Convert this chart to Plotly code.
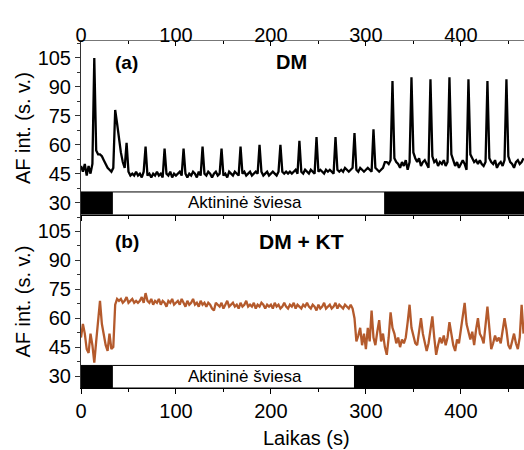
import plotly.graph_objects as go

# sampling time (s), one reading every 2 s
t = list(range(0, 467, 2))

# (a) DM
dm = [
    49, 46, 50, 44, 49, 45, 50, 105, 57, 55,
    55, 54, 52, 50, 48, 47, 46, 48, 78, 71,
    63, 56, 51, 48, 61, 46, 44, 45, 44, 46,
    44, 45, 43, 46, 59, 44, 45, 43, 45, 44,
    46, 44, 45, 43, 58, 45, 44, 46, 43, 45,
    44, 45, 46, 44, 58, 45, 43, 45, 44, 46,
    45, 43, 46, 44, 59, 45, 44, 46, 45, 43,
    45, 46, 44, 45, 58, 44, 45, 43, 46, 45,
    44, 46, 45, 44, 59, 45, 46, 44, 45, 46,
    44, 45, 46, 45, 60, 46, 44, 45, 46, 44,
    45, 46, 45, 44, 46, 60, 46, 45, 46, 45,
    46, 45, 46, 47, 45, 62, 46, 45, 47, 46,
    45, 47, 46, 45, 64, 46, 47, 46, 45, 47,
    46, 47, 46, 45, 64, 47, 46, 47, 46, 48,
    47, 46, 47, 48, 66, 47, 46, 48, 47, 46,
    47, 48, 47, 46, 68, 48, 47, 46, 47, 48,
    51, 51, 50, 52, 93, 53, 51, 50, 48, 51,
    49, 52, 47, 51, 95, 56, 53, 51, 53, 49,
    51, 52, 50, 48, 94, 54, 51, 52, 49, 51,
    50, 52, 49, 51, 95, 55, 52, 49, 51, 48,
    50, 52, 50, 47, 94, 55, 53, 51, 52, 50,
    52, 50, 49, 51, 93, 53, 51, 50, 52, 48,
    50, 51, 49, 52, 94, 54, 51, 50, 48, 51,
    52, 50, 51, 53,
]

# (b) DM + KT
dm_kt = [
    50, 57, 52, 44, 42, 52, 46, 37, 48, 58,
    69, 57, 51, 46, 43, 52, 44, 45, 67, 70,
    69, 70, 68, 69, 71, 68, 69, 70, 68, 69,
    68, 69, 71, 68, 73, 69, 68, 70, 67, 69,
    68, 70, 67, 69, 68, 66, 69, 68, 70, 67,
    68, 69, 67, 70, 68, 66, 69, 67, 68, 70,
    67, 68, 66, 69, 67, 68, 66, 68, 67, 65,
    64, 68, 67, 66, 68, 65, 67, 69, 66, 67,
    68, 66, 67, 65, 68, 66, 67, 69, 66, 67,
    66, 68, 65, 67, 66, 68, 67, 65, 67, 66,
    67, 65, 68, 66, 67, 65, 66, 68, 66, 65,
    67, 66, 68, 65, 67, 66, 65, 67, 66, 68,
    66, 65, 67, 66, 64, 67, 65, 66, 68, 65,
    66, 67, 65, 66, 68, 65, 67, 66, 65, 67,
    66, 65, 67, 65, 60, 48, 51, 55, 46, 52,
    44, 55, 48, 64, 50, 46, 53, 59, 48, 52,
    45, 41, 50, 63, 55, 52, 47, 50, 45, 49,
    47, 50, 58, 67, 55, 50, 47, 46, 52, 60,
    52, 48, 43, 47, 53, 61, 50, 41, 46, 50,
    47, 51, 46, 50, 58, 52, 46, 43, 49, 47,
    55, 60, 68, 57, 52, 49, 53, 46, 54, 60,
    52, 50, 47, 58, 66, 55, 44, 47, 51, 48,
    50, 47, 53, 60, 54, 46, 44, 49, 52, 47,
    44, 50, 67, 52,
]

# actinic light periods (s)
light_on = [33, 33]
light_off = [320, 288]
t_end = 466.5

FONT = "Liberation Sans, Arial, sans-serif"
y_rng = [23.8, 113.8]
bar_top = 35.5

fig = go.Figure()
fig.add_trace(go.Scatter(x=t, y=dm, mode="lines", line=dict(color="black", width=2.3),
                         xaxis="x", yaxis="y", showlegend=False))
fig.add_trace(go.Scatter(x=t, y=dm_kt, mode="lines", line=dict(color="#B45A2C", width=2.3),
                         xaxis="x2", yaxis="y2", showlegend=False))
# dummy traces so the two top axes (labels / inside ticks) get drawn
for xa in ["x3", "x4"]:
    fig.add_trace(go.Scatter(x=[0, t_end], y=[30, 30], mode="lines", line=dict(width=0),
                             xaxis=xa, yaxis="y", showlegend=False, hoverinfo="skip"))

# light bars
for i, (xa, ya) in enumerate([("x", "y"), ("x2", "y2")]):
    fig.add_shape(type="rect", xref=xa, yref=ya, x0=0, x1=light_on[i], y0=y_rng[0], y1=bar_top,
                  fillcolor="black", line=dict(color="black", width=1))
    fig.add_shape(type="rect", xref=xa, yref=ya, x0=light_on[i], x1=light_off[i], y0=y_rng[0], y1=bar_top,
                  fillcolor="white", line=dict(color="black", width=1))
    fig.add_shape(type="rect", xref=xa, yref=ya, x0=light_off[i], x1=t_end, y0=y_rng[0], y1=bar_top,
                  fillcolor="black", line=dict(color="black", width=1))
    fig.add_annotation(xref=xa, yref=ya, x=173, y=30, text="Aktininė šviesa", showarrow=False,
                       font=dict(size=17, color="black"))

fig.add_annotation(xref="x", yref="y", x=48, y=102.5, text="<b>(a)</b>", showarrow=False,
                   font=dict(size=19, color="black"))
fig.add_annotation(xref="x", yref="y", x=222, y=103, text="<b>DM</b>", showarrow=False,
                   font=dict(size=20, color="black"))
fig.add_annotation(xref="x2", yref="y2", x=48, y=100, text="<b>(b)</b>", showarrow=False,
                   font=dict(size=19, color="black"))
fig.add_annotation(xref="x2", yref="y2", x=232, y=100, text="<b>DM + KT</b>", showarrow=False,
                   font=dict(size=21, color="black"))

# axis titles
for yy in [0.749, 0.249]:
    fig.add_annotation(xref="paper", yref="paper", x=-0.131, y=yy, text="AF int. (s. v.)",
                       xanchor="center", yanchor="middle",
                       textangle=-90, showarrow=False, font=dict(size=20, color="black"))
fig.add_annotation(xref="paper", yref="paper", x=0.508, y=-0.144, text="Laikas (s)",
                   xanchor="center", yanchor="middle",
                   showarrow=False, font=dict(size=20, color="black"))

xcommon = dict(range=[0, t_end], showgrid=False, zeroline=False, showline=True,
               linecolor="black", linewidth=1, dtick=100, tick0=0, ticklen=5,
               tickcolor="black", tickfont=dict(size=20, color="black"), automargin=False)
ycommon = dict(range=y_rng, showgrid=False, zeroline=False, showline=True,
               linecolor="#333", linewidth=1, tick0=30, dtick=15, ticks="outside",
               ticklen=5, tickcolor="#333", tickfont=dict(size=20, color="black"),
               automargin=False,
               minor=dict(ticks="outside", ticklen=3, tick0=30, dtick=7.5, tickcolor="#333"))

fig.update_layout(
    template="none",
    width=524, height=450,
    margin=dict(l=81, r=0, t=41, b=62),
    paper_bgcolor="white", plot_bgcolor="white",
    font=dict(family=FONT, color="black"),
    xaxis=dict(xcommon, anchor="y", ticks="outside", showticklabels=False,
               minor=dict(ticks="outside", ticklen=3, dtick=50, tickcolor="black")),
    xaxis2=dict(xcommon, anchor="y2", ticks="outside",
                minor=dict(ticks="outside", ticklen=3, dtick=50, tickcolor="black")),
    # top labels only, nudged a few px down
    xaxis3=dict(xcommon, anchor="free", position=0.985, overlaying="x", side="top",
                ticks="", showline=False),
    # top spine with inside tick marks
    xaxis4=dict(xcommon, anchor="y", overlaying="x", side="top", ticks="inside",
                linecolor="#777", showticklabels=False,
                minor=dict(ticks="inside", ticklen=3, dtick=50, tickcolor="black")),
    yaxis=dict(ycommon, domain=[0.5, 1]),
    yaxis2=dict(ycommon, domain=[0, 0.5]),
)

# page margin off so the figure sits at the window corner
fig.write_html("out.html", config={"displayModeBar": False},
               post_script="document.body.style.margin='0';"
                           "Plotly.relayout(document.getElementById('{plot_id}'),{width:524,height:450});")
